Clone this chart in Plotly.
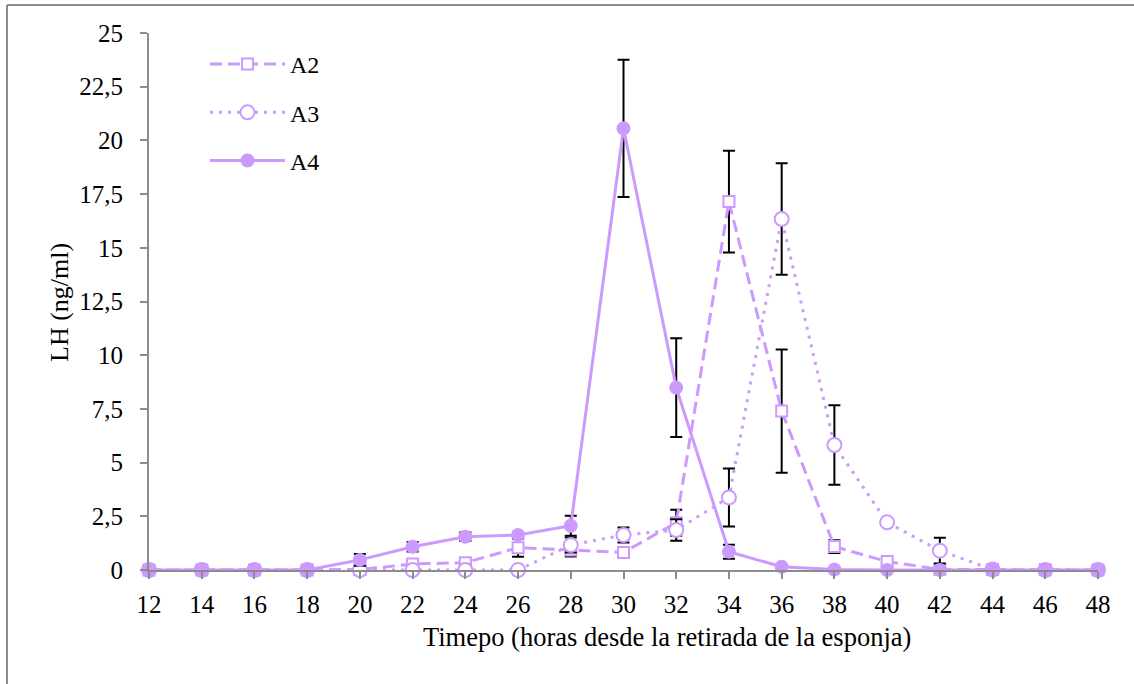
import plotly.graph_objects as go

# LH concentration (ng/ml) by hours after sponge removal
horas = [12, 14, 16, 18, 20, 22, 24, 26, 28, 30, 32, 34, 36, 38, 40, 42, 44, 46, 48]

a2 = [0, 0, 0, 0, 0.02, 0.28, 0.34, 1.04, 0.93, 0.82, 2.2, 17.15, 7.4, 1.09, 0.39, 0.03, 0.02, 0.01, 0]
a2_err = [None, None, None, None, None, 0.15, 0.1, 0.42, 0.3, 0.22, 0.6, 2.37, 2.87, 0.3, 0.1, None, None, None, None]

a3 = [0, 0, 0, 0, 0, 0, 0, 0, 1.16, 1.63, 1.86, 3.38, 16.34, 5.82, 2.22, 0.9, 0.02, 0, 0]
a3_err = [None, None, None, None, None, None, None, None, 0.35, 0.35, 0.5, 1.35, 2.6, 1.85, 0.1, 0.6, None, None, None]

a4 = [0, 0, 0, 0, 0.47, 1.08, 1.55, 1.63, 2.06, 20.56, 8.49, 0.85, 0.15, 0.02, 0, 0, 0, 0, 0]
a4_err = [None, None, None, None, 0.27, 0.22, 0.2, 0.12, 0.47, 3.2, 2.3, 0.33, 0.05, None, None, None, None, None, None]

y_ticks = [0, 2.5, 5, 7.5, 10, 12.5, 15, 17.5, 20, 22.5, 25]
y_ticktext = ["0", "2,5", "5", "7,5", "10", "12,5", "15", "17,5", "20", "22,5", "25"]

LAV = "#CC99FF"
FONT = "Liberation Serif"
W, H = 1134, 684
ML, MR, MT, MB = 149, 36, 33, 114

def err(vals):
    return dict(type="data", array=vals, visible=True, color="black",
                thickness=2, width=6)

fig = go.Figure()
fig.add_trace(go.Scatter(
    x=horas, y=a2, name="A2", mode="lines+markers", cliponaxis=False,
    line=dict(color=LAV, width=3, dash="12px,6px"),
    marker=dict(symbol="square", size=11, color="white",
                line=dict(color=LAV, width=2)),
    error_y=err(a2_err), legendgroup="a2"))
fig.add_trace(go.Scatter(
    x=horas, y=a3, name="A3", mode="lines+markers", cliponaxis=False,
    line=dict(color=LAV, width=3, dash="3px,6px"),
    marker=dict(symbol="circle", size=14, color="white",
                line=dict(color=LAV, width=2)),
    error_y=err(a3_err), legendgroup="a3"))
fig.add_trace(go.Scatter(
    x=horas, y=a4, name="A4", mode="lines+markers", cliponaxis=False,
    line=dict(color=LAV, width=3),
    marker=dict(symbol="circle", size=14, color=LAV),
    error_y=err(a4_err), legendgroup="a4"))

pw, ph = W - ML - MR, H - MT - MB
def px_x(p):
    return (p - ML) / pw
def px_y(p):
    return (H - MB - p) / ph

# outer chart frame (top and left edges)
frame = dict(color="#8C8C8C", width=2)
fig.add_shape(type="line", xref="paper", yref="paper",
              x0=px_x(7), x1=px_x(W + 2), y0=px_y(5), y1=px_y(5), line=frame)
fig.add_shape(type="line", xref="paper", yref="paper",
              x0=px_x(7), x1=px_x(7), y0=px_y(5), y1=px_y(H + 2), line=frame)

fig.add_annotation(text="Timepo (horas desde la retirada de la esponja)",
                   xref="paper", yref="paper", x=px_x(667), y=px_y(637),
                   xanchor="center", yanchor="middle",
                   showarrow=False, font=dict(family=FONT, size=26.5, color="black"))
fig.add_annotation(text="LH (ng/ml)", textangle=-90,
                   xref="paper", yref="paper", x=px_x(59), y=px_y(303),
                   xanchor="center", yanchor="middle",
                   showarrow=False, font=dict(family=FONT, size=26, color="black"))

fig.update_layout(
    width=W, height=H,
    margin=dict(l=ML, r=MR, t=MT, b=MB, pad=0),
    paper_bgcolor="white", plot_bgcolor="white",
    font=dict(family=FONT, size=25, color="black"),
    showlegend=True,
    legend=dict(x=px_x(205), y=px_y(42), xanchor="left", yanchor="top",
                bgcolor="rgba(0,0,0,0)", itemwidth=75, tracegroupgap=14,
                font=dict(family=FONT, size=24, color="black")),
    xaxis=dict(range=[12, 48], tickvals=horas, showgrid=False, zeroline=False,
               showline=True, linecolor="#8C8C8C", linewidth=2,
               ticks="outside", ticklen=7, tickcolor="#8C8C8C", tickwidth=2,
               ticklabelstandoff=4, tickfont=dict(family=FONT, size=25)),
    yaxis=dict(range=[0, 25], tickvals=y_ticks, ticktext=y_ticktext,
               showgrid=False, zeroline=False,
               showline=True, linecolor="#8C8C8C", linewidth=2,
               ticks="outside", ticklen=7, tickcolor="#8C8C8C", tickwidth=2,
               ticklabelstandoff=12, tickfont=dict(family=FONT, size=25)),
)

fig.write_html("out.html")
